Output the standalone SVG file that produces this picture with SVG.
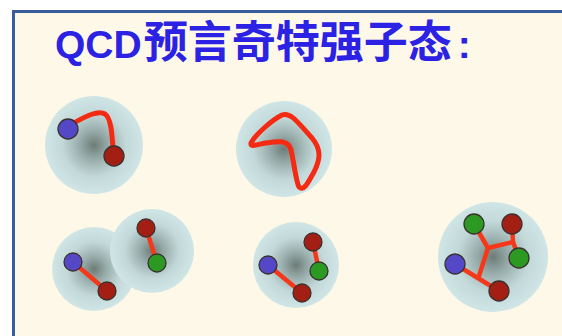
<svg xmlns="http://www.w3.org/2000/svg" width="562" height="336" viewBox="0 0 562 336">
  <defs>
    <radialGradient id="cloud" cx="0.5" cy="0.5" r="0.5">
      <stop offset="0" stop-color="#6e7c77"/>
      <stop offset="0.3" stop-color="#98adab"/>
      <stop offset="0.65" stop-color="#c3d9d9"/>
      <stop offset="1" stop-color="#d0e6e6"/>
    </radialGradient>
    <style>
      .cloud { fill: url(#cloud); }
      .flux { fill: none; stroke: #f52a12; stroke-width: 5; stroke-linecap: round; stroke-linejoin: round; }
      .bond { fill: none; stroke: #f5381a; stroke-width: 4.5; stroke-linecap: round; stroke-linejoin: round; }
      .q { stroke: #3a3030; stroke-width: 1.3; }
      .blue { fill: #5548c6; }
      .red { fill: #a31f14; }
      .green { fill: #2c9a22; }
      .title { fill: #2c22e4; font-weight: bold; }
    </style>
  </defs>

  <!-- page and framed panel -->
  <rect x="0" y="0" width="562" height="336" fill="#ffffff"/>
  <rect x="13.5" y="11.5" width="560" height="340" fill="#fef8e8" stroke="#3b5c9a" stroke-width="3"/>

  <text class="title" x="55" y="58"><tspan font-family="'Liberation Sans', Arial, sans-serif" font-size="39">QCD</tspan><tspan font-family="'Noto Sans CJK SC', sans-serif" font-size="44" dx="2">预言奇特强子态</tspan><tspan font-family="'Liberation Sans', Arial, sans-serif" font-size="39" dx="6">:</tspan></text>

  <!-- meson: quark and antiquark joined by a flux tube -->
  <g id="meson">
    <circle class="cloud" cx="94" cy="145" r="49"/>
    <path class="flux" d="M72 124 C 86 116, 98 110, 105 114 C 111 118, 112 134, 113 148"/>
    <circle class="q blue" cx="68" cy="129" r="10"/>
    <circle class="q red" cx="114" cy="156" r="10"/>
  </g>

  <!-- glueball: closed gluon flux loop -->
  <g id="glueball">
    <circle class="cloud" cx="284" cy="149" r="48"/>
    <path class="flux" d="M251 143 C 256 134, 272 120, 282 115 C 290 112, 296 120, 312 138 C 322 150, 320 160, 314 172 C 308 182, 304 192, 299 187 C 296 182, 294 162, 291 150 C 288 140, 280 141, 266 143 C 258 144, 250 148, 251 143 Z"/>
  </g>

  <!-- hadronic molecule: two touching hadrons -->
  <g id="molecule">
    <g id="molecule-a">
      <circle class="cloud" cx="94" cy="269" r="42"/>
      <line class="bond" x1="73" y1="262" x2="107" y2="291"/>
      <circle class="q blue" cx="73" cy="262" r="9"/>
      <circle class="q red" cx="107" cy="291" r="9"/>
    </g>
    <g id="molecule-b">
      <circle class="cloud" cx="152" cy="251" r="42"/>
      <line class="bond" x1="146" y1="228" x2="157" y2="263"/>
      <circle class="q red" cx="146" cy="228" r="9"/>
      <circle class="q green" cx="157" cy="263" r="9"/>
    </g>
  </g>

  <!-- tetraquark -->
  <g id="tetraquark">
    <circle class="cloud" cx="296" cy="265" r="43"/>
    <line class="bond" x1="268" y1="265" x2="302" y2="293"/>
    <line class="bond" x1="313" y1="242" x2="319" y2="271"/>
    <circle class="q blue" cx="268" cy="265" r="9"/>
    <circle class="q red" cx="302" cy="293" r="9"/>
    <circle class="q red" cx="313" cy="242" r="9"/>
    <circle class="q green" cx="319" cy="271" r="9"/>
  </g>

  <!-- pentaquark with junction strings -->
  <g id="pentaquark">
    <circle class="cloud" cx="493" cy="257" r="55"/>
    <path class="bond" d="M455 264 L 499 291 M479 276 L 488 248 L 474 224 M488 248 L 513 242 M512 224 L 513 242 L 519 258"/>
    <circle class="q green" cx="474" cy="224" r="10"/>
    <circle class="q red" cx="512" cy="224" r="10"/>
    <circle class="q green" cx="519" cy="258" r="10"/>
    <circle class="q blue" cx="455" cy="264" r="10"/>
    <circle class="q red" cx="499" cy="291" r="10"/>
  </g>
</svg>
